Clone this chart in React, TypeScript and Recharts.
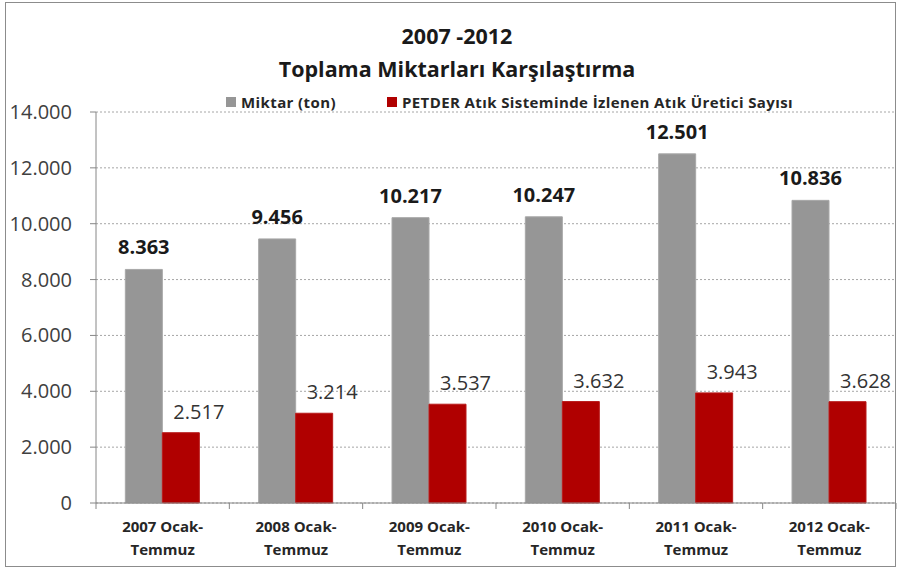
import { BarChart, Bar, XAxis, YAxis, CartesianGrid, LabelList } from 'recharts';

const kategoriler = [
  '2007 Ocak-Temmuz',
  '2008 Ocak-Temmuz',
  '2009 Ocak-Temmuz',
  '2010 Ocak-Temmuz',
  '2011 Ocak-Temmuz',
  '2012 Ocak-Temmuz',
];
const miktar = [8363, 9456, 10217, 10247, 12501, 10836];
const ureticiSayisi = [2517, 3214, 3537, 3632, 3943, 3628];
const yTicks = [0, 2000, 4000, 6000, 8000, 10000, 12000, 14000];

const data = kategoriler.map((k, i) => ({ kategori: k, miktar: miktar[i], uretici: ureticiSayisi[i] }));

const FONT = '"Open Sans", sans-serif';
const W = 900;
const H = 572;
const M = { top: 112, right: 4, bottom: 0, left: 0 };
const Y_W = 96;
const X_H = 69;
const BAND = (W - M.left - M.right - Y_W) / kategoriler.length;

// 12501 -> "12.501"
const fmt = (v: number) => String(v).replace(/\B(?=(\d{3})+(?!\d))/g, '.');

const YTick = ({ x, y, payload }: any) => (
  <g>
    <line x1={x - 6} x2={x} y1={y} y2={y} stroke="#868686" />
    <text x={x - 24} y={y} dy={7} textAnchor="end" fontFamily={FONT} fontSize={20} fill="#404040">
      {fmt(payload.value)}
    </text>
  </g>
);

const XTick = ({ x, y, payload, index }: any) => {
  const [a, b] = String(payload.value).split(' Ocak-');
  return (
    <g>
      <line x1={x - BAND / 2} x2={x - BAND / 2} y1={y} y2={y + 6} stroke="#868686" />
      {index === kategoriler.length - 1 && (
        <line x1={x + BAND / 2} x2={x + BAND / 2} y1={y} y2={y + 6} stroke="#868686" />
      )}
      <text x={x} y={y + 29} textAnchor="middle" fontFamily={FONT} fontSize={15} fontWeight="bold" fill="#262626">
        {a} Ocak-
      </text>
      <text x={x} y={y + 52} textAnchor="middle" fontFamily={FONT} fontSize={15} fontWeight="bold" fill="#262626">
        {b ? 'Temmuz' : ''}
      </text>
    </g>
  );
};

const GriEtiket = ({ x, y, width, value }: any) => (
  <text x={x + width / 2} y={y - 15} textAnchor="middle" fontFamily={FONT} fontSize={20} fontWeight="bold" fill="#1a1a1a">
    {fmt(value)}
  </text>
);

const KirmiziEtiket = ({ x, y, width, value }: any) => (
  <text x={x + width / 2 + 18} y={y - 14} textAnchor="middle" fontFamily={FONT} fontSize={20} fill="#333333">
    {fmt(value)}
  </text>
);

export default function App() {
  return (
    <div style={{ position: 'absolute', left: 0, top: 0, width: W, height: H, background: '#fff' }}>
      <div
        style={{
          position: 'absolute',
          left: 5,
          top: 2,
          width: 891,
          height: 565,
          border: '1px solid #8c8c8c',
          boxSizing: 'border-box',
        }}
      />
      <div
        style={{
          position: 'absolute',
          left: 0,
          width: 914,
          top: 19,
          textAlign: 'center',
          fontFamily: FONT,
          fontWeight: 'bold',
          fontSize: 21.5,
          lineHeight: '33px',
          color: '#1a1a1a',
        }}
      >
        <div>2007 -2012</div>
        <div>Toplama Miktarları Karşılaştırma</div>
      </div>
      <div
        style={{
          position: 'absolute',
          left: 226,
          top: 92,
          display: 'flex',
          alignItems: 'center',
          fontFamily: FONT,
          fontSize: 15,
          fontWeight: 'bold',
          letterSpacing: 0.4,
          lineHeight: '20px',
          color: '#262626',
          whiteSpace: 'nowrap',
        }}
      >
        <span style={{ width: 10, height: 10, background: '#969696', marginRight: 5 }} />
        <span style={{ marginRight: 51 }}>Miktar (ton)</span>
        <span style={{ width: 10, height: 10, background: '#b00000', marginRight: 5 }} />
        <span>PETDER Atık Sisteminde İzlenen Atık Üretici Sayısı</span>
      </div>
      <div style={{ position: 'absolute', left: 0, top: 0 }}>
        <BarChart width={W} height={H} data={data} margin={M} barCategoryGap="22%" barGap={0}>
          <CartesianGrid vertical={false} stroke="#a6a6a6" strokeDasharray="2 2" />
          <XAxis
            dataKey="kategori"
            interval={0}
            height={X_H}
            tickLine={false}
            tickSize={0}
            tickMargin={0}
            tick={<XTick />}
            axisLine={{ stroke: '#868686' }}
          />
          <YAxis
            width={Y_W}
            domain={[0, 14000]}
            ticks={yTicks}
            tickLine={false}
            tickSize={0}
            tickMargin={0}
            tick={<YTick />}
            axisLine={{ stroke: '#868686' }}
          />
          <Bar dataKey="miktar" fill="#969696" stroke="#a8a8a8" isAnimationActive={false}>
            <LabelList dataKey="miktar" content={<GriEtiket />} />
          </Bar>
          <Bar dataKey="uretici" fill="#b00000" stroke="#b81a1a" isAnimationActive={false}>
            <LabelList dataKey="uretici" content={<KirmiziEtiket />} />
          </Bar>
        </BarChart>
      </div>
    </div>
  );
}
